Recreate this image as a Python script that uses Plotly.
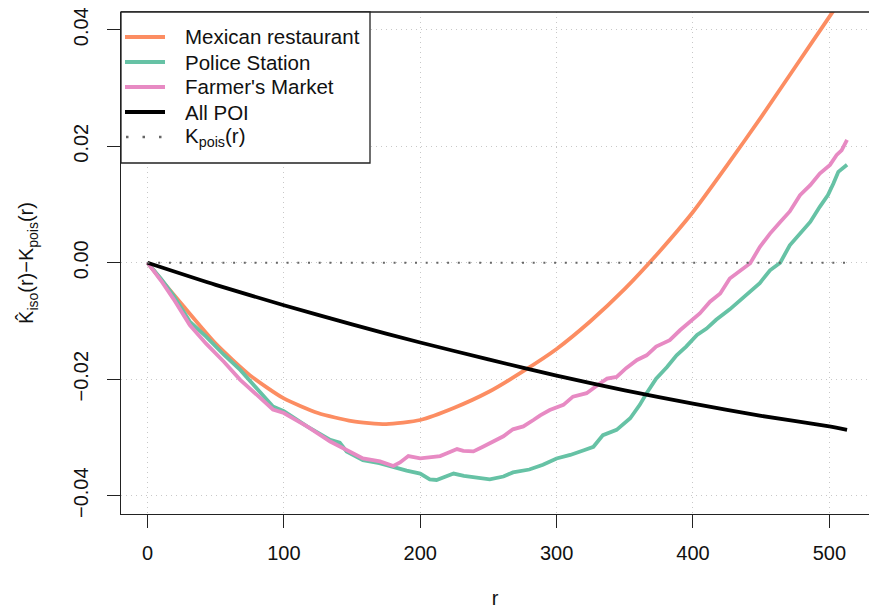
import plotly.graph_objects as go

# ---------------- data ----------------
r_mex = [0, 10, 25, 50, 75, 100, 125, 150, 175, 200, 225, 250, 275, 300, 325,
         350, 375, 400, 425, 450, 475, 500, 513]
k_mex = [0, -0.0029, -0.0071, -0.0139, -0.0193, -0.0233, -0.0258, -0.0272, -0.0277,
         -0.0270, -0.0249, -0.0222, -0.0187, -0.0148, -0.0100, -0.0045, 0.0018,
         0.0087, 0.0167, 0.0250, 0.0336, 0.0422, 0.0467]

r_pol = [0, 10, 19, 31, 43, 56, 68, 80, 92, 100, 117, 134, 141, 146, 158, 170,
         183, 190, 200, 207, 212, 220, 224.5, 232, 244, 251, 261, 268, 280, 290,
         300, 310, 320, 327, 334, 344, 354, 361, 366, 373, 381, 388, 395, 403,
         410, 417, 427, 434.5, 442, 449, 456.5, 464, 471, 478.5, 486, 493, 499,
         503, 506.6, 513]
k_pol = [0, -0.0028, -0.0056, -0.0101, -0.0127, -0.0158, -0.0184, -0.0215, -0.0247,
         -0.0255, -0.0281, -0.0304, -0.0309, -0.0324, -0.0339, -0.0344, -0.0353,
         -0.0357, -0.0362, -0.0372, -0.0373, -0.0367, -0.0362, -0.0366, -0.0370,
         -0.0372, -0.0367, -0.0360, -0.0355, -0.0347, -0.0336, -0.0330, -0.0322,
         -0.0316, -0.0296, -0.0287, -0.0267, -0.0244, -0.0224, -0.0199, -0.0179,
         -0.0159, -0.0144, -0.0124, -0.0113, -0.0098, -0.0080, -0.0064, -0.0050,
         -0.0035, -0.0013, 0.0000, 0.0030, 0.0050, 0.0070, 0.0096, 0.0116, 0.0136,
         0.0156, 0.0168]

r_farm = [0, 10, 19, 31, 43, 56, 68, 80, 92, 100, 117, 134, 141, 146, 158, 170.5,
          180.3, 185.2, 191.3, 200, 207, 214.6, 219.6, 227, 231.6, 239, 246, 253.6,
          261, 268, 275.6, 283, 288, 295, 305, 312, 322, 332, 337, 344, 351, 359,
          366, 373, 383, 390.5, 400, 405, 412.5, 420, 427, 434.5, 442, 449, 456.5,
          464, 471, 478.5, 486, 493, 500.5, 505.4, 509, 513]
k_farm = [0, -0.0031, -0.0062, -0.0107, -0.0139, -0.0170, -0.0201, -0.0227, -0.0252,
          -0.0258, -0.0281, -0.0307, -0.0315, -0.0322, -0.0336, -0.0341, -0.0349,
          -0.0343, -0.0332, -0.0336, -0.0334, -0.0332, -0.0327, -0.0320, -0.0323,
          -0.0324, -0.0316, -0.0306, -0.0298, -0.0286, -0.0281, -0.0270, -0.0262,
          -0.0253, -0.0244, -0.0230, -0.0224, -0.0207, -0.0199, -0.0196, -0.0181,
          -0.0167, -0.0159, -0.0144, -0.0133, -0.0116, -0.0098, -0.0087, -0.0067,
          -0.0053, -0.0027, -0.0013, -0.0001, 0.0027, 0.0050, 0.0070, 0.0088,
          0.0116, 0.0133, 0.0153, 0.0168, 0.0185, 0.0193, 0.0211]

r_all = [0, 50, 100, 150, 200, 250, 300, 350, 400, 450, 500, 513]
k_all = [0, -0.0038, -0.0073, -0.0106, -0.0137, -0.0166, -0.0194, -0.0219,
         -0.0242, -0.0263, -0.0281, -0.0287]

r_pois = [0, 513]
k_pois = [0, 0]

x_ticks = [0, 100, 200, 300, 400, 500]
y_ticks = [-0.04, -0.02, 0.00, 0.02, 0.04]
y_ticktext = ["\u22120.04", "\u22120.02", "0.00", "0.02", "0.04"]

names = ["Mexican restaurant", "Police Station", "Farmer's Market", "All POI",
         "K<sub>pois</sub>(r)"]
colors = ["#FC8D62", "#66C2A5", "#E78AC3", "#000000", "#666666"]

FONT = "Liberation Sans, Arial, Helvetica, sans-serif"

# ---------------- figure ----------------
fig = go.Figure()
fig.add_trace(go.Scatter(x=r_mex, y=k_mex, mode="lines", name=names[0],
                         line=dict(color=colors[0], width=3.8, shape="spline", smoothing=0.6)))
fig.add_trace(go.Scatter(x=r_pol, y=k_pol, mode="lines", name=names[1],
                         line=dict(color=colors[1], width=3.8)))
fig.add_trace(go.Scatter(x=r_farm, y=k_farm, mode="lines", name=names[2],
                         line=dict(color=colors[2], width=3.8)))
fig.add_trace(go.Scatter(x=r_all, y=k_all, mode="lines", name=names[3],
                         line=dict(color=colors[3], width=3.8, shape="spline", smoothing=0.6)))
fig.add_trace(go.Scatter(x=r_pois, y=k_pois, mode="lines", name=names[4],
                         line=dict(color=colors[4], width=2, dash="2px,8.7px")))
fig.update_traces(showlegend=False)

# plot area in pixels: left 121, right 869, top 12, bottom 514
L, R, T, B = 121, 869, 12, 514
W, H = R - L, B - T

def px(xp):
    return (xp - L) / W

def py(yp):
    return 1 - (yp - T) / H

shapes = [
    # top frame line
    dict(type="line", xref="paper", yref="paper", x0=0, x1=1, y0=1, y1=1,
         line=dict(color="#222222", width=1.3), layer="above"),
    # legend box
    dict(type="rect", xref="paper", yref="paper", x0=px(121), x1=px(370),
         y0=py(163), y1=1, fillcolor="white", line=dict(color="#222222", width=1.3),
         layer="above"),
]
annotations = []
rows = [37, 62, 87, 112, 137]
for i, (nm, col, yrow) in enumerate(zip(names, colors, rows)):
    if i < 4:
        shapes.append(dict(type="line", xref="paper", yref="paper",
                           x0=px(125), x1=px(165), y0=py(yrow), y1=py(yrow),
                           line=dict(color=col, width=4), layer="above"))
    else:
        shapes.append(dict(type="line", xref="paper", yref="paper",
                           x0=px(126), x1=px(163), y0=py(yrow), y1=py(yrow),
                           line=dict(color=col, width=2.5, dash="2.5px,14px"),
                           layer="above"))
    annotations.append(dict(xref="paper", yref="paper", x=px(183), y=py(yrow),
                            xanchor="left", yanchor="middle", text=nm,
                            showarrow=False, font=dict(size=20.5, color="#111111", family=FONT)))

fig.update_layout(
    width=869, height=609,
    margin=dict(l=L, r=869 - R, t=T, b=609 - B),
    paper_bgcolor="white", plot_bgcolor="white",
    font=dict(family=FONT, size=20, color="#111111"),
    showlegend=False,
    shapes=shapes,
    annotations=annotations,
    xaxis=dict(
        range=[-19.43, 529.1], tickvals=x_ticks, ticks="outside", ticklen=13,
        tickwidth=1.2, tickcolor="#222222", showline=True, linecolor="#222222",
        linewidth=1.3, showgrid=True, gridcolor="#c8c8c8", griddash="1px,4px",
        gridwidth=1, zeroline=False, tickfont=dict(size=20),
        ticklabelstandoff=8,
        title=dict(text="r", standoff=30, font=dict(size=20)),
    ),
    yaxis=dict(
        range=[-0.04314, 0.04304], tickvals=y_ticks, ticktext=y_ticktext,
        tickangle=-90, ticks="outside", ticklen=13, tickwidth=1.2,
        tickcolor="#222222", showline=True, linecolor="#222222", linewidth=1.3,
        showgrid=True, gridcolor="#c8c8c8", griddash="1px,4px", gridwidth=1,
        zeroline=False, tickfont=dict(size=20), ticklabelstandoff=11,
        title=dict(text="K\u0302<sub>iso</sub>(r)\u2212K<sub>pois</sub>(r)",
                   standoff=30, font=dict(size=20)),
    ),
)

fig.write_html("out.html")
